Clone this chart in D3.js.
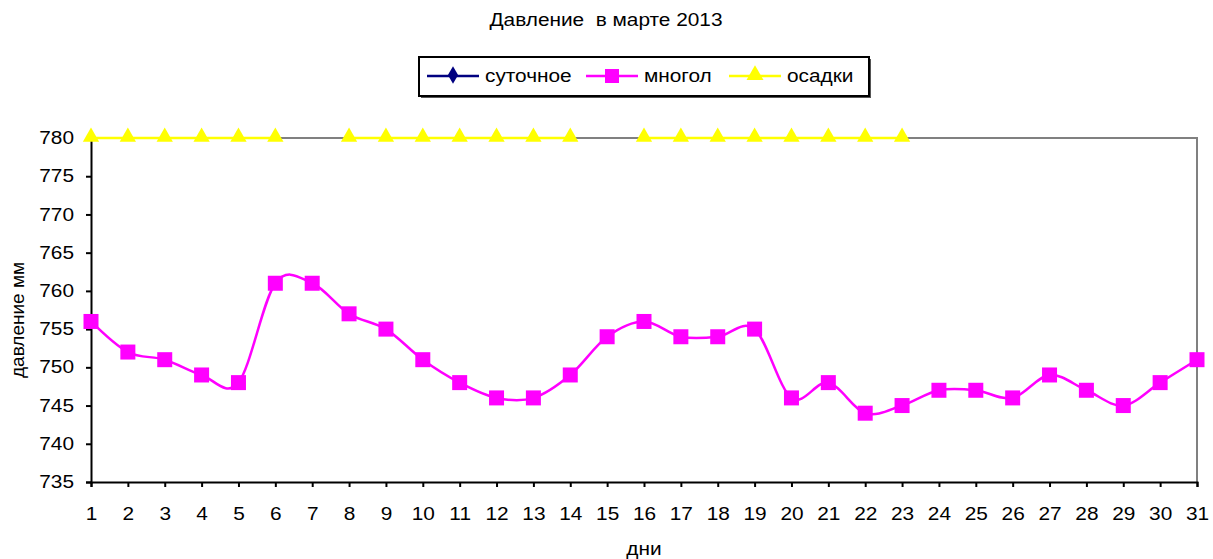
<!DOCTYPE html>
<html>
<head>
<meta charset="utf-8">
<script src="https://cdn.jsdelivr.net/npm/d3@7"></script>
<style>
  body { margin: 0; background: #fff; }
  svg { font-family: "Liberation Sans", Arial, sans-serif; }
</style>
</head>
<body>
<div id="chart"></div>
<script>
const days = d3.range(1, 32);
const yTicks = [735, 740, 745, 750, 755, 760, 765, 770, 775, 780];
// многолетнее давление по дням
const mnogol = [756, 752, 751, 749, 748, 761, 761, 757, 755, 751, 748, 746, 746, 749, 754,
                756, 754, 754, 755, 746, 748, 744, 745, 747, 747, 746, 749, 747, 745, 748, 751];
// осадки (отметка на 780, null — без осадков)
const osadki = [780, 780, 780, 780, 780, 780, null, 780, 780, 780, 780, 780, 780, 780, null,
                780, 780, 780, 780, 780, 780, 780, 780, null, null, null, null, null, null, null, null];
// суточное — данных нет
const sutochnoe = [];

const W = 1213, H = 559;
const margin = { top: 138, right: 16, bottom: 77, left: 91 };
const width = W - margin.left - margin.right;
const height = H - margin.top - margin.bottom;
const FS = 17.5, KX = 1.19; // шрифт растянут по горизонтали

// horizontal stretch of text around its anchor x
function stretch(sel) {
    sel.each(function () {
        const t = d3.select(this);
        const x0 = +t.attr("x") || 0;
        t.attr("transform", `translate(${x0},0) scale(${KX},1) translate(${-x0},0)`);
    });
}

const svg = d3.select("#chart").append("svg")
    .attr("width", W)
    .attr("height", H);

// Title
svg.append("text")
    .attr("x", 606).attr("y", 26)
    .attr("text-anchor", "middle")
    .style("white-space", "pre")
    .attr("font-size", FS)
    .text("Давление  в марте 2013")
    .call(stretch);

const g = svg.append("g")
    .attr("transform", `translate(${margin.left},${margin.top})`);

const x = d3.scaleLinear().domain([1, 31]).range([0, width]);
const y = d3.scaleLinear().domain([735, 780]).range([height, 0]);

// plot frame (grey top/right)
g.append("path")
    .attr("d", `M0,0H${width}V${height}`)
    .attr("fill", "none")
    .attr("stroke", "#808080")
    .attr("stroke-width", 2);

// axes
const xAxis = g.append("g")
    .attr("transform", `translate(0,${height})`)
    .call(d3.axisBottom(x).tickValues(days).tickFormat(d3.format("d")).tickSize(5).tickPadding(21));
const yAxis = g.append("g")
    .call(d3.axisLeft(y).tickValues(yTicks).tickSize(5).tickPadding(12));

[xAxis, yAxis].forEach(a => {
    a.select(".domain").attr("stroke", "#000").attr("stroke-width", 2);
    a.selectAll(".tick line").attr("stroke", "#000").attr("stroke-width", 2);
    a.selectAll("text").attr("font-size", FS).attr("fill", "#000")
        .attr("font-family", "Liberation Sans, Arial, sans-serif")
        .call(stretch);
});

// axis titles
svg.append("text")
    .attr("transform", "translate(24,320) rotate(-90)")
    .attr("text-anchor", "middle")
    .attr("font-size", 19)
    .text("давление мм");
svg.append("text")
    .attr("x", margin.left + width / 2).attr("y", 555)
    .attr("text-anchor", "middle")
    .attr("font-size", FS)
    .text("дни")
    .call(stretch);

// osadki line + triangles
const osData = days.map((d, i) => ({ day: d, v: osadki[i] }));
g.append("path")
    .datum(osData)
    .attr("fill", "none")
    .attr("stroke", "#ffff00")
    .attr("stroke-width", 2.5)
    .attr("d", d3.line().defined(d => d.v != null).x(d => x(d.day)).y(d => y(d.v)));

const tri = d3.symbol().type(d3.symbolTriangle).size(115);
g.selectAll(".tri")
    .data(osData.filter(d => d.v != null))
    .enter().append("path")
    .attr("transform", d => `translate(${x(d.day)},${y(d.v) - 1})`)
    .attr("d", tri)
    .attr("fill", "#ffff00");

// mnogol smoothed line + squares
const mData = days.map((d, i) => ({ day: d, v: mnogol[i] }));
g.append("path")
    .datum(mData)
    .attr("fill", "none")
    .attr("stroke", "#ff00ff")
    .attr("stroke-width", 2.5)
    .attr("d", d3.line().x(d => x(d.day)).y(d => y(d.v)).curve(d3.curveCardinal.tension(0)));

g.selectAll(".sq")
    .data(mData)
    .enter().append("rect")
    .attr("x", d => x(d.day) - 7.5)
    .attr("y", d => y(d.v) - 7.5)
    .attr("width", 15)
    .attr("height", 15)
    .attr("fill", "#ff00ff");

// legend
const lg = svg.append("g").attr("transform", "translate(419,57)");
lg.append("rect")
    .attr("x", 2).attr("y", 2)
    .attr("width", 450).attr("height", 39)
    .attr("fill", "#555");
lg.append("rect")
    .attr("width", 450).attr("height", 39)
    .attr("fill", "#fff")
    .attr("stroke", "#000")
    .attr("stroke-width", 2);

const legendItems = [
    { name: "суточное", color: "#000080", shape: d3.symbolDiamond, x0: 8 },
    { name: "многол", color: "#ff00ff", shape: "square", x0: 167 },
    { name: "осадки", color: "#ffff00", shape: d3.symbolTriangle, x0: 310 }
];
legendItems.forEach(it => {
    const li = lg.append("g").attr("transform", `translate(${it.x0},19)`);
    li.append("line").attr("x1", 0).attr("x2", 52).attr("stroke", it.color).attr("stroke-width", 2.5);
    if (it.shape === "square") {
        li.append("rect").attr("x", 19).attr("y", -7).attr("width", 14).attr("height", 14).attr("fill", it.color);
    } else {
        li.append("path").attr("transform", "translate(26,-1)")
            .attr("d", d3.symbol().type(it.shape).size(it.shape === d3.symbolDiamond ? 90 : 125))
            .attr("fill", it.color);
    }
    li.append("text").attr("x", 58).attr("y", 6).attr("font-size", FS).text(it.name).call(stretch);
});
</script>
</body>
</html>
